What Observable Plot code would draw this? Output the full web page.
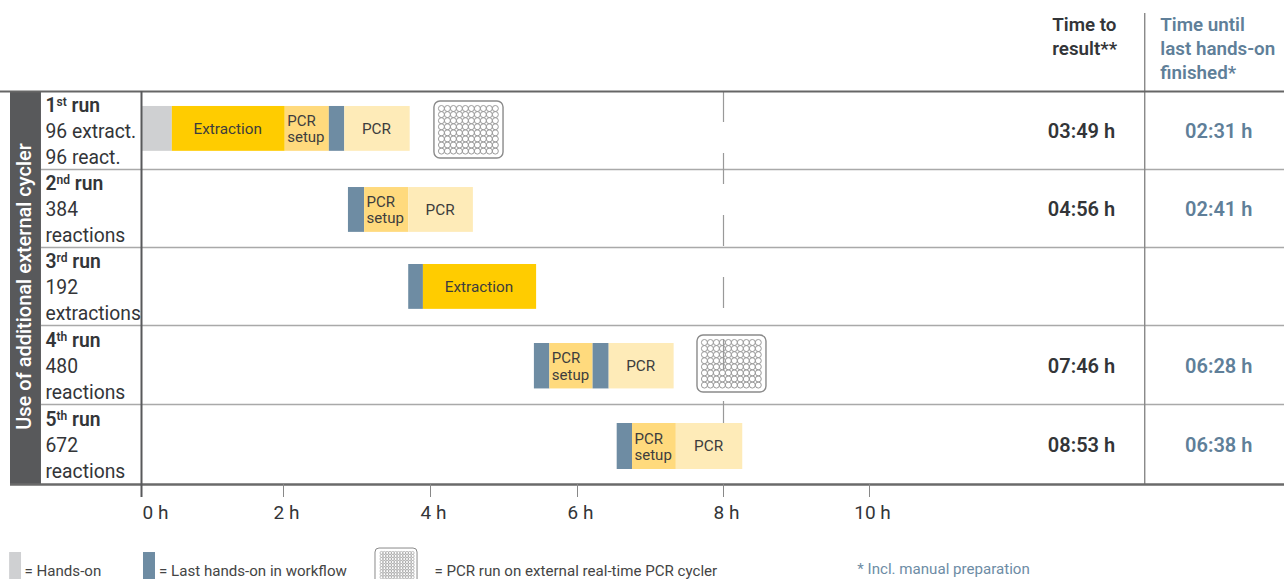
<!DOCTYPE html>
<html>
<head>
<meta charset="utf-8">
<script src="https://cdn.jsdelivr.net/npm/d3@7"></script>
<script src="https://cdn.jsdelivr.net/npm/@observablehq/plot@0.6"></script>
<style>
html,body{margin:0;padding:0;background:#fff;overflow:hidden}
svg{display:block}
</style>
</head>
<body>
<div id="chart"></div>
<script>
// ---- Data ----
const runLabels = [
  "1st run\n96 extract.\n96 react.",
  "2nd run\n384\nreactions",
  "3rd run\n192\nextractions",
  "4th run\n480\nreactions",
  "5th run\n672\nreactions"
];
const timeToResult = ["03:49 h", "04:56 h", "", "07:46 h", "08:53 h"];
const timeLastHandsOn = ["02:31 h", "02:41 h", "", "06:28 h", "06:38 h"];
const tickHours = [0, 2, 4, 6, 8, 10];

const segRun   = [0, 0, 0, 0, 0,   1, 1, 1,   2, 2,   3, 3, 3, 3,   4, 4, 4];
const segKind  = ["Hands-on", "Extraction", "PCR setup", "Last hands-on", "PCR",
                  "Last hands-on", "PCR setup", "PCR",
                  "Last hands-on", "Extraction",
                  "Last hands-on", "PCR setup", "Last hands-on", "PCR",
                  "Last hands-on", "PCR setup", "PCR"];
const segStart = [0, 0.42, 2.01, 2.61, 2.82,   2.87, 3.09, 3.69,   3.69, 3.89,   5.40, 5.61, 6.20, 6.42,   6.53, 6.74, 7.34];
const segEnd   = [0.42, 2.01, 2.61, 2.82, 3.71,   3.09, 3.69, 4.57,   3.89, 5.43,   5.61, 6.20, 6.42, 7.31,   6.74, 7.34, 8.25];

const kinds = ["Hands-on", "Extraction", "PCR setup", "Last hands-on", "PCR"];
const kindColors = ["#cfd0d2", "#ffcc00", "#ffda7d", "#6e8ca3", "#feebb8"];

// ---- Layout constants (in scale units) ----
const barTop = [0.192, 0.231, 0.218, 0.228, 0.2375];
const barH = 0.575;
const FONT = "Roboto";
const DARK = "#333538", BLUE = "#5f7f99", BAND = "#58595b";
const colResult = 12.89, colHands = 14.77, colLabels = -1.329;

// The hour axis and the rows of the source are very slightly uneven.
const xWarp = d3.scaleLinear([-1.945, 0, 2, 4, 6, 8, 10, 15.671], [0, 142, 284, 431, 578, 724, 870, 1284]);
const yWarp = d3.scaleLinear([-1, 0, 1, 2, 3, 4, 5, 6], [0, 91, 169, 247, 325, 404, 484, 579]);
const hourLabel = px => Math.round(xWarp.invert(px)) + " h";

const segs = segRun.map((run, i) => ({run, kind: segKind[i], start: segStart[i], end: segEnd[i],
  label: segKind[i] === "PCR setup" ? "PCR\nsetup" : (segKind[i] === "PCR" || segKind[i] === "Extraction") ? segKind[i] : ""}));
const rows = runLabels.map((label, i) => ({i, label, a: timeToResult[i], b: timeLastHandsOn[i]}));

function wells(x0, y0, nCols, nRows, dx, dy) {
  const out = [];
  for (let c = 0; c < nCols; c++) for (let r = 0; r < nRows; r++) out.push({x: x0 + c * dx, y: y0 + r * dy});
  return out;
}
const plateFrames = [
  {x1: 4.04, x2: 4.98, y1: 0.128, y2: 0.859},
  {x1: 7.63, x2: 8.575, y1: 3.127, y2: 3.848}
];
const bigWells = [
  ...wells(4.135, 0.218, 10, 8, 0.0815, 0.078),
  ...wells(7.725, 3.215, 10, 8, 0.082, 0.077)
];

const headLines = [
  {x: 12.49, y: -0.615, t: "Time to\nresult**", c: DARK},
  {x: 13.97, y: -0.485, t: "Time until\nlast hands-on\nfinished*", c: BLUE}
];
const legendTexts = [
  {x: -1.616, y: 5.9, t: "= Hands-on", c: "#444"},
  {x: 0.233, y: 5.9, t: "= Last hands-on in workflow", c: "#444"},
  {x: 4.04, y: 5.9, t: "= PCR run on external real-time PCR cycler", c: "#444"},
  {x: 9.82, y: 5.88, t: "* Incl. manual preparation", c: "#6d8ca5"}
];

const chart = Plot.plot({
  width: 1284,
  height: 579,
  marginTop: 91,
  marginBottom: 95,
  marginLeft: 0,
  marginRight: 0,
  style: {fontFamily: FONT, background: "#fff"},
  x: {transform: xWarp, domain: [0, 1284], range: [0, 1284]},
  y: {transform: yWarp, domain: [0, 579], range: [0, 579], axis: null},
  color: {domain: kinds, range: kindColors},
  marks: [
    // left band
    Plot.rect([0], {x1: -1.808, x2: -1.384, y1: 0, y2: 5, fill: BAND}),
    Plot.text(["Use of additional external cycler"], {x: -1.589, dx: -1.5, y: 2.5, rotate: -90, fill: "#fff", fontSize: 20, fontWeight: 500}),
    // row separators
    Plot.ruleY([1, 2, 3, 4], {x1: -1.384, x2: 15.671, stroke: "#a9a9a9", strokeWidth: 1.6}),
    // 8 h dashed guide
    Plot.ruleX([8], {dx: -1, y1: 0, y2: 4.74, stroke: "#999", strokeWidth: 1.2, strokeDasharray: "31 31"}),
    // header / result divider
    Plot.ruleX([13.77], {dx: -1, y1: -0.857, y2: 5, stroke: "#888", strokeWidth: 1.4}),
    // bars
    Plot.rect(segs, {
      x1: "start", x2: "end",
      y1: d => d.run + barTop[d.run],
      y2: d => d.run + barTop[d.run] + barH,
      fill: "kind"
    }),
    // bar labels
    Plot.text(segs.filter(d => d.kind !== "PCR setup" && d.label), {
      x: d => (d.start + d.end) / 2, dx: -1,
      y: d => d.run + barTop[d.run] + barH / 2,
      text: "label", fill: "#3d3d3d", fontSize: 15.3
    }),
    Plot.text(segs.filter(d => d.kind === "PCR setup"), {
      x: "start", dx: 2, textAnchor: "start",
      y: d => d.run + barTop[d.run] + barH / 2,
      text: "label", fill: "#3d3d3d", fontSize: 15, lineHeight: 1.1
    }),
    // plates
    Plot.rect(plateFrames, {x1: "x1", x2: "x2", y1: "y1", y2: "y2", fill: "none", stroke: "#8a8a8a", strokeWidth: 1.4, rx: 6}),
    Plot.dot(bigWells, {x: "x", y: "y", r: 3, fill: "none", stroke: "#9a9a9a", strokeWidth: 1}),
    // frame lines
    Plot.ruleY([0], {x1: -1.945, x2: 15.671, stroke: "#666", strokeWidth: 2}),
    Plot.ruleY([5], {x1: -1.808, x2: 15.671, stroke: "#6a6a6a", strokeWidth: 2.6}),
    Plot.ruleX([0], {dx: -1, y1: 0, y2: 5.137, stroke: BAND, strokeWidth: 2}),
    // axis
    Plot.axisX({ticks: tickHours.slice(1).map(xWarp), anchor: "bottom", tickSize: 13, text: null, label: null, stroke: "#888", dx: -1}),
    Plot.axisX({ticks: tickHours.slice(1).map(xWarp), anchor: "bottom", tickSize: 0, tickPadding: 21, tickFormat: hourLabel, label: null, fontSize: 19, fill: DARK, dx: 2}),
    Plot.axisX({ticks: tickHours.slice(0, 1).map(xWarp), anchor: "bottom", tickSize: 0, tickPadding: 21, tickFormat: hourLabel, label: null, fontSize: 19, fill: DARK, textAnchor: "start"}),
    // row labels
    Plot.text(rows, {x: colLabels, y: d => d.i + 0.5, dy: -0.5, text: "label", textAnchor: "start", fill: DARK, fontSize: 19.3, lineHeight: 1.35}),
    // time columns
    Plot.text(rows.filter(d => d.a), {x: colResult, y: d => d.i + 0.5, dy: 1.5, text: "a", fill: DARK, fontSize: 20, fontWeight: 600}),
    Plot.text(rows.filter(d => d.b), {x: colHands, y: d => d.i + 0.5, dy: 1.5, text: "b", fill: BLUE, fontSize: 20, fontWeight: 600}),
    // headers
    Plot.text(headLines, {x: "x", y: "y", text: "t", fill: "c", textAnchor: "start", fontSize: 18.8, fontWeight: 600, lineHeight: 1.28}),
    // legend
    Plot.rect([0], {x1: -1.82, x2: -1.657, y1: 5.716, y2: 6, fill: kindColors[0]}),
    Plot.rect([0], {x1: 0.014, x2: 0.183, y1: 5.716, y2: 6, fill: kindColors[3]}),
    Plot.rect([0], {x1: 3.238, x2: 3.81, y1: 5.674, y2: 6.3, fill: "none", stroke: "#8a8a8a", strokeWidth: 1, rx: 4}),
    Plot.dot(wells(3.32, 5.72, 12, 9, 0.0385, 0.032), {x: "x", y: "y", r: 1.5, fill: "none", stroke: "#a5a5a5", strokeWidth: 0.7}),
    Plot.text(legendTexts, {x: "x", y: "y", dy: 1, text: "t", fill: "c", textAnchor: "start", fontSize: 15.1})
  ]
});

// Superscript ordinals and bold first lines of the row labels
d3.select(chart).selectAll("tspan").each(function () {
  const m = /^(\d)(st|nd|rd|th) run$/.exec(this.textContent);
  if (!m) return;
  const t = d3.select(this).attr("font-weight", 600).text(m[1]);
  t.append("tspan").attr("font-size", 12).attr("dy", -6).text(m[2]);
  t.append("tspan").attr("dy", 6).text(" run");
});

document.getElementById("chart").appendChild(chart);
</script>
</body>
</html>
